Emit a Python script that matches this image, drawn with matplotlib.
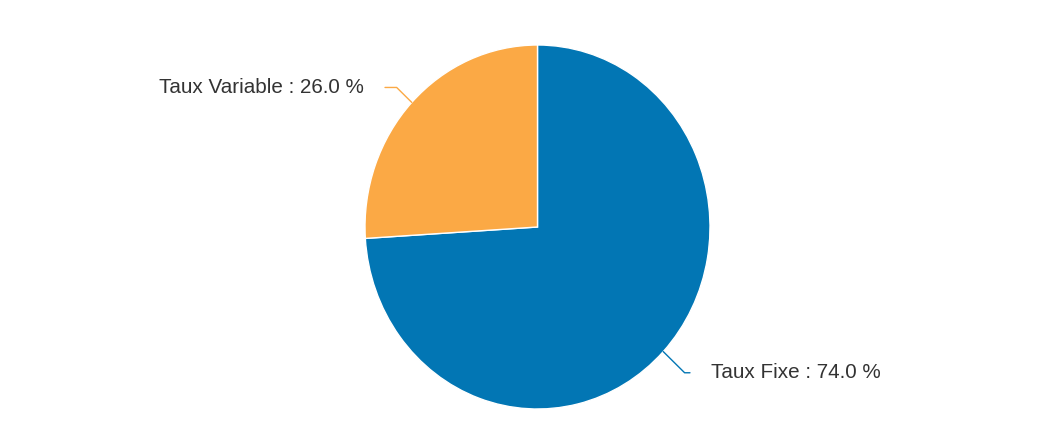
import matplotlib.pyplot as plt
import numpy as np

labels = ['Taux Fixe', 'Taux Variable']
values = [74.0, 26.0]
colors = ['#0276b4', '#fba945']

W, H = 1053, 446
CX, CY = 537.5, 227.0   # pie centre in pixels
RX, RY = 172.5, 182.0   # pie radii in pixels (slightly stretched vertically)

fig = plt.figure(figsize=(W / 100, H / 100), dpi=100)
ax = fig.add_axes([0, 0, 1, 1])

wedges, _ = ax.pie(values, colors=colors, startangle=90, counterclock=False,
                   wedgeprops=dict(edgecolor='white', linewidth=1))
ax.set_aspect('auto')
ax.set_xlim(-CX / RX, (W - CX) / RX)
ax.set_ylim(-(H - CY) / RY, CY / RY)
ax.axis('off')

for w, lab, val, col in zip(wedges, labels, values, colors):
    a = np.deg2rad((w.theta1 + w.theta2) / 2)
    ex, ey = np.cos(a), np.sin(a)
    # labels below the centre sit a little lower
    rl = 1.12 if ey > 0 else 1.17
    bx, by = rl * np.cos(a), rl * np.sin(a)
    side = np.sign(ex)
    endx = side * 0.884
    ax.plot([ex, bx, endx], [ey, by, by], color=col, lw=1, solid_capstyle='round')
    ax.text(side * 1.005, by, f'{lab} : {val:.1f} %', ha='left' if side > 0 else 'right',
            va='center', fontsize=14.9, color='#333333', family='Liberation Sans')

fig.savefig('out.png', dpi=100, facecolor='white')
